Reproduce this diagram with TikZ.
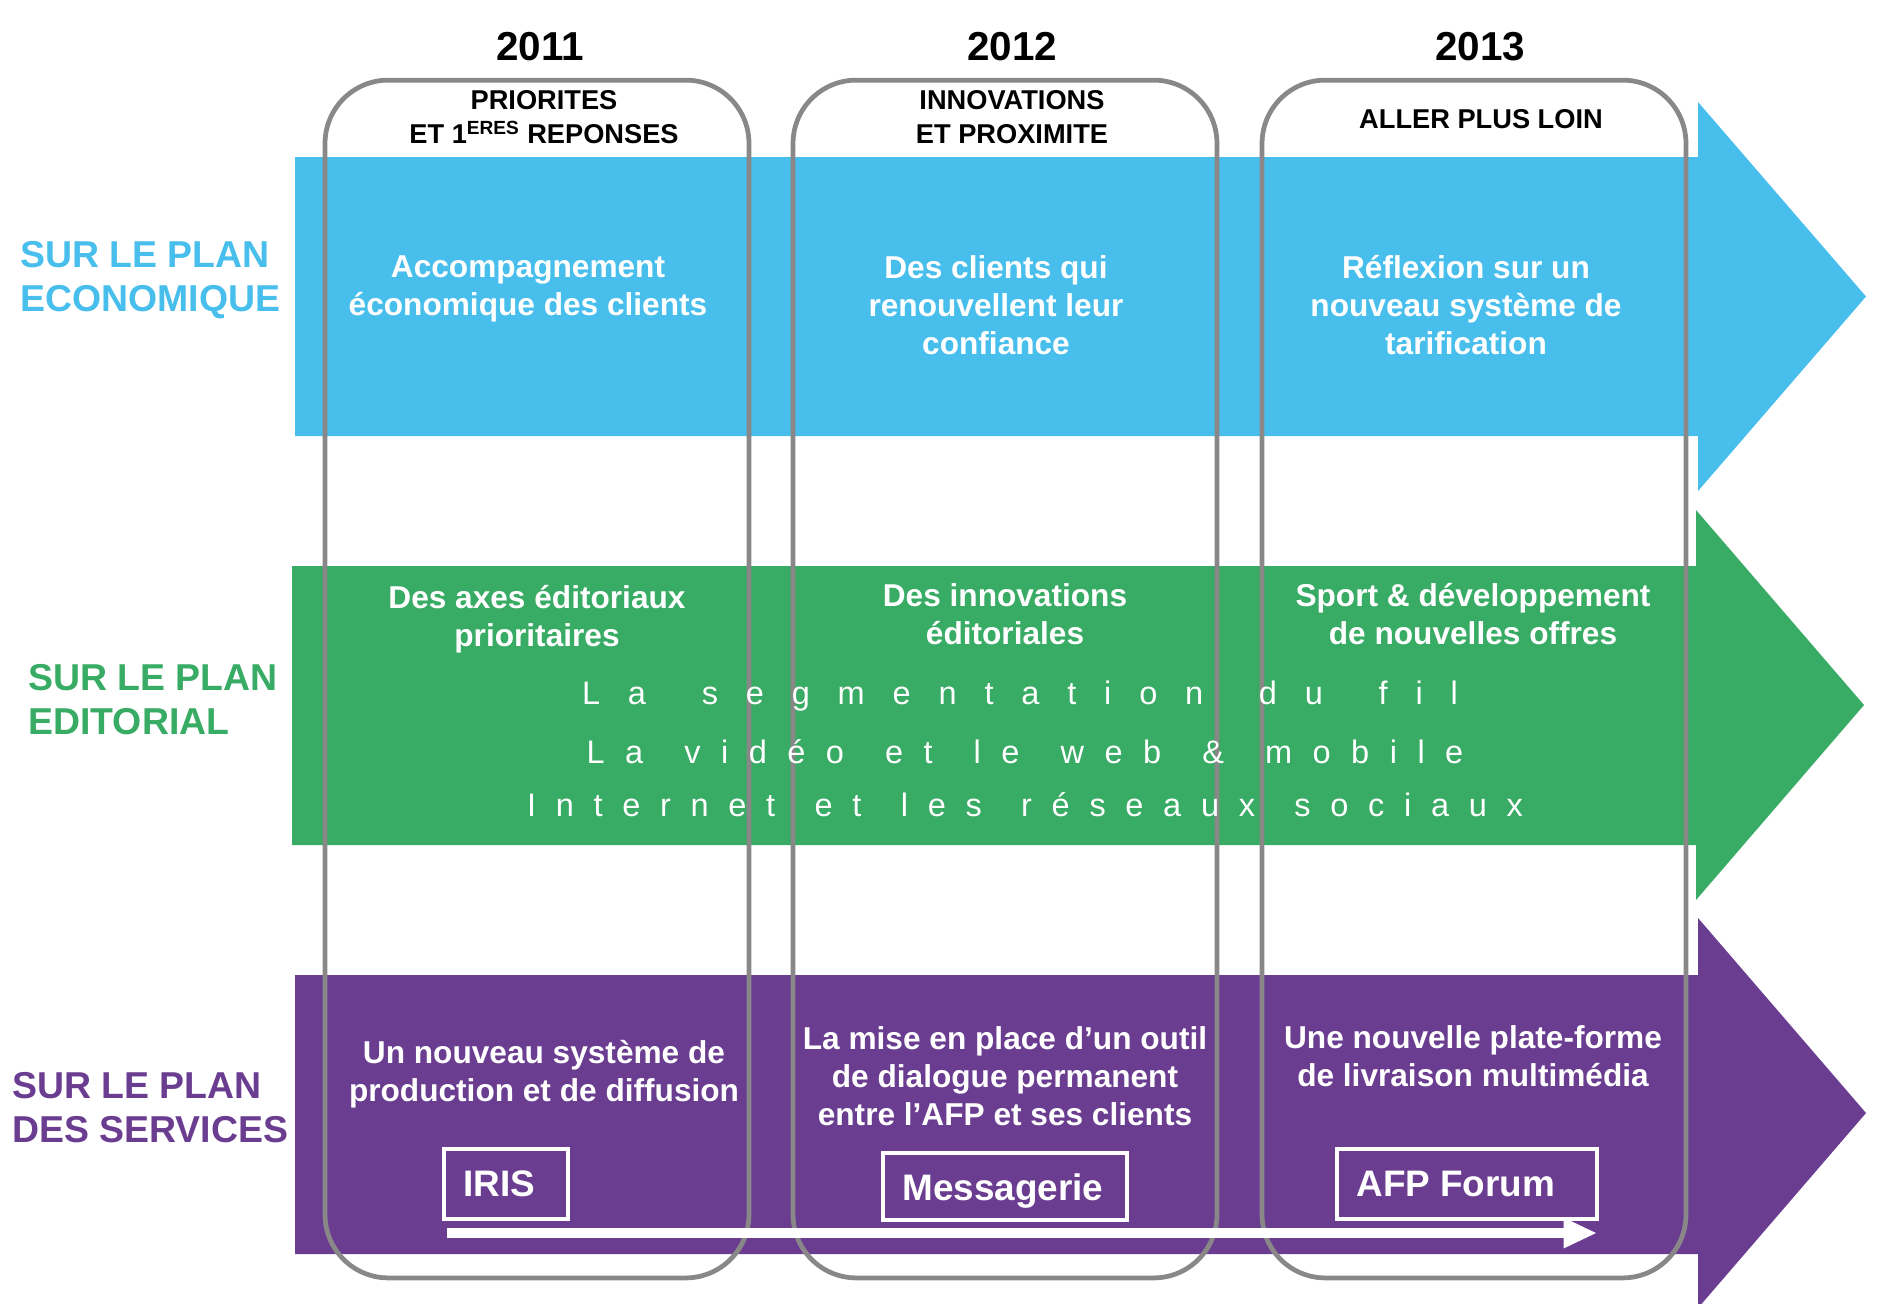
\documentclass[tikz,border=0pt]{standalone}
\usepackage{fontspec}
\setmainfont{Liberation Sans}
\usetikzlibrary{arrows.meta}
\definecolor{cblue}{RGB}{72,190,236}
\definecolor{cgreen}{RGB}{56,171,100}
\definecolor{cpurple}{RGB}{106,61,144}
\definecolor{cgray}{RGB}{137,135,135}
\tikzset{
  yearbox/.style={draw=cgray, line width=2.7pt, rounded corners=36pt, minimum width=8.48cm, minimum height=23.96cm, inner sep=0pt, outer sep=0pt},
  yeartxt/.style={font=\bfseries\fontsize{23}{27}\selectfont, text=black, inner sep=0pt},
  headtxt/.style={font=\bfseries\fontsize{15.5}{19.3}\selectfont, text=black, align=center, inner sep=0pt},
  bandtxt/.style={font=\bfseries\fontsize{18}{21.7}\selectfont, text=white, align=center, inner sep=0pt},
  sidetxt/.style={font=\bfseries\fontsize{21.3}{25}\selectfont, align=left, anchor=west, inner sep=0pt},
  spreadtxt/.style={font=\fontsize{18.5}{22}\selectfont, text=white, inner sep=0pt},
  svcbox/.style={draw=white, line width=2.3pt, inner sep=0pt},
  svctxt/.style={font=\bfseries\fontsize{21}{25}\selectfont, text=white, anchor=west, inner sep=0pt}
}
\begin{document}
\begin{tikzpicture}[x=0.02cm,y=-0.02cm]
\useasboundingbox (0,0) rectangle (1878,1303);
% bands
\fill[cblue] (295,157) -- (1698,157) -- (1698,102) -- (1866,296.5) -- (1698,491) -- (1698,436) -- (295,436) -- cycle;
\fill[cgreen] (292,566) -- (1696,566) -- (1696,510) -- (1864,705) -- (1696,900) -- (1696,845) -- (292,845) -- cycle;
\fill[cpurple] (295,975) -- (1698,975) -- (1698,918) -- (1866,1113) -- (1698,1308) -- (1698,1254) -- (295,1254) -- cycle;
% year frames
\node[yearbox] (r1) at (537,679) {};
\node[yearbox] (r2) at (1005,679) {};
\node[yearbox] (r3) at (1474,679) {};
% years
\node[yeartxt] (y1) at (540,47) {2011};
\node[yeartxt] (y2) at (1012,47) {2012};
\node[yeartxt] (y3) at (1480,47) {2013};
% headers
\node[headtxt] (h1) at (544,117) {PRIORITES\\ET 1\textsuperscript{ERES} REPONSES};
\node[headtxt] (h2) at (1012,117) {INNOVATIONS\\ET PROXIMITE};
\node[headtxt] (h3) at (1481,119) {ALLER PLUS LOIN};
% side labels
\node[sidetxt, text=cblue] (s1) at (20,280) {SUR LE PLAN\\ECONOMIQUE};
\node[sidetxt, text=cgreen] (s2) at (28,700) {SUR LE PLAN\\EDITORIAL};
\node[sidetxt, text=cpurple] (s3) at (12,1108) {SUR LE PLAN\\DES SERVICES};
% economic
\node[bandtxt] (b1) at (528,289) {Accompagnement\\économique des clients};
\node[bandtxt] (b2) at (996,305) {Des clients qui\\renouvellent leur\\confiance};
\node[bandtxt] (b3) at (1466,305) {Réflexion sur un\\nouveau système de\\tarification};
% editorial
\node[bandtxt] (g1) at (537,619) {Des axes éditoriaux\\prioritaires};
\node[bandtxt] (g2) at (1005,614) {Des innovations\\éditoriales};
\node[bandtxt] (g3) at (1473,614) {Sport \& développement\\de nouvelles offres};
\node[spreadtxt] (l1) at (1020,696) {\makebox[17.52cm][s]{L\hfill a\hfill\hfill s\hfill e\hfill g\hfill m\hfill e\hfill n\hfill t\hfill a\hfill t\hfill i\hfill o\hfill n\hfill\hfill d\hfill u\hfill\hfill f\hfill i\hfill l}};
\node[spreadtxt] (l2) at (1025,752) {\makebox[17.54cm][s]{L\hfill a\hfill\hfill v\hfill i\hfill d\hfill é\hfill o\hfill\hfill e\hfill t\hfill\hfill l\hfill e\hfill\hfill w\hfill e\hfill b\hfill\hfill \&\hfill\hfill m\hfill o\hfill b\hfill i\hfill l\hfill e}};
\node[spreadtxt] (l3) at (1025,805) {\makebox[19.92cm][s]{I\hfill n\hfill t\hfill e\hfill r\hfill n\hfill e\hfill t\hfill\hfill e\hfill t\hfill\hfill l\hfill e\hfill s\hfill\hfill r\hfill é\hfill s\hfill e\hfill a\hfill u\hfill x\hfill\hfill s\hfill o\hfill c\hfill i\hfill a\hfill u\hfill x}};
% services
\node[bandtxt] (p1) at (544,1074) {Un nouveau système de\\production et de diffusion};
\node[bandtxt] (p2) at (1005,1076) {La mise en place d’un outil\\de dialogue permanent\\entre l’AFP et ses clients};
\node[bandtxt] (p3) at (1473,1056) {Une nouvelle plate-forme\\de livraison multimédia};
% service boxes
\node[svcbox, minimum width=2.48cm, minimum height=1.4cm] (iris) at (506,1184) {};
\node[svctxt] (irist) at ([xshift=0.42cm]iris.west) {IRIS};
\node[svcbox, minimum width=4.88cm, minimum height=1.34cm] (mess) at (1005,1186.5) {};
\node[svctxt] (messt) at ([xshift=0.42cm, yshift=-0.1cm]mess.west) {Messagerie};
\node[svcbox, minimum width=5.2cm, minimum height=1.4cm] (afp) at (1467,1184) {};
\node[svctxt] (afpt) at ([xshift=0.42cm]afp.west) {AFP Forum};
% timeline arrow
\coordinate (tls) at (447,1233);
\coordinate (tle) at (1597,1233);
\draw[white, line width=6.2pt, -{Triangle[length=19pt, width=16pt]}] (tls) -- (tle);
\end{tikzpicture}
\end{document}
